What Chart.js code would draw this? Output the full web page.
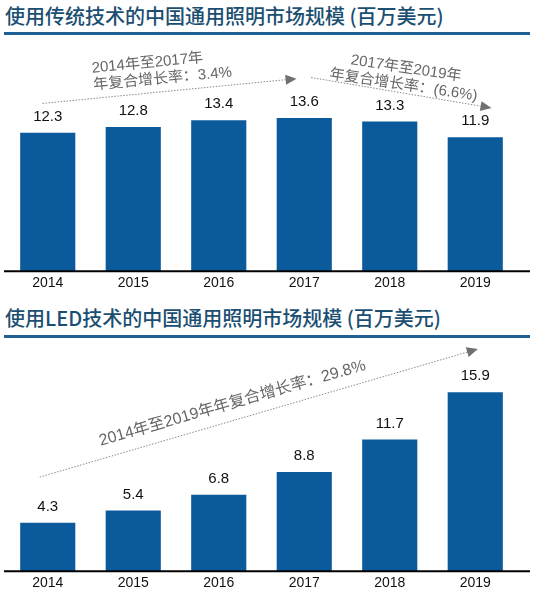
<!DOCTYPE html>
<html>
<head>
<meta charset="utf-8">
<script src="https://cdn.jsdelivr.net/npm/chart.js@4.4.1/dist/chart.umd.min.js"></script>
<style>
  body { margin: 0; background: #fff; width: 533px; height: 597px; position: relative; overflow: hidden; }
  .title { position: absolute; left: 5px; font: 500 20px 'Noto Sans CJK SC', sans-serif; line-height: 24px; color: #1b4f72; white-space: nowrap; }
  .rule { position: absolute; left: 4px; width: 526px; height: 3px; background: #1f5f94; }
  .box { position: absolute; left: 0; width: 533px; }
</style>
</head>
<body>
<div class="title" id="title1" style="top:4px"></div>
<div class="rule" style="top:32px"></div>
<div class="box" style="top:38px;height:258px"><canvas id="chart1"></canvas></div>
<div class="title" id="title2" style="top:306px"></div>
<div class="rule" style="top:335px"></div>
<div class="box" style="top:340px;height:256px"><canvas id="chart2"></canvas></div>
<script>
'use strict';
// data
let years = ['2014', '2015', '2016', '2017', '2018', '2019'];
let traditionalValues = [12.3, 12.8, 13.4, 13.6, 13.3, 11.9];
let ledValues = [4.3, 5.4, 6.8, 8.8, 11.7, 15.9];
let traditionalTitle = '使用传统技术的中国通用照明市场规模 (百万美元)';
let ledTitle = '使用LED技术的中国通用照明市场规模 (百万美元)';
let traditionalNotes = [['2014年至2017年', '年复合增长率：3.4%'], ['2017年至2019年', '年复合增长率：(6.6%)']];
let ledNotes = [['2014年至2019年年复合增长率：29.8%']];

document.getElementById('title1').textContent = traditionalTitle;
document.getElementById('title2').textContent = ledTitle;

let barColor = '#0b5a9b';
let noteColor = '#666666';
let numFont = "'Liberation Sans', 'Noto Sans CJK SC', sans-serif";

// arrows and rotated notes, placed in category index / value units
let traditionalArrows = [
  { from: [-0.06, 14.9], to: [2.91, 17.1] },
  { from: [3.08, 17.2], to: [5.19, 14.5] }
];
let traditionalText = [
  { at: [0.515, 18.0], angle: -5.4, align: 'left', lines: traditionalNotes[0] },
  { at: [4.19, 18.0], angle: 8.5, align: 'center', lines: traditionalNotes[1] }
];
let ledArrows = [
  { from: [-0.094, 8.36], to: [5.03, 19.73] }
];
let ledText = [
  { at: [2.16, 14.9], angle: -16, align: 'center', lines: ledNotes[0], size: 16 }
];

// value labels over bars, baseline and notes
let extras = {
  id: 'extras',
  afterDatasetsDraw(chart, args, opts) {
    let ctx = chart.ctx;
    let x = chart.scales.x;
    let y = chart.scales.y;
    let base = y.getPixelForValue(0);
    ctx.save();
    // baseline
    ctx.strokeStyle = '#000';
    ctx.lineWidth = 2;
    ctx.beginPath();
    ctx.moveTo(4, base);
    ctx.lineTo(530, base);
    ctx.stroke();
    // labels
    ctx.fillStyle = '#111';
    ctx.font = '15px ' + numFont;
    ctx.textAlign = 'center';
    ctx.textBaseline = 'middle';
    chart.getDatasetMeta(0).data.forEach((bar, i) => {
      ctx.fillText(chart.data.datasets[0].data[i].toFixed(1), bar.x, bar.y - 16);
    });
    // arrows
    opts.arrows.forEach(a => {
      let x1 = x.getPixelForValue(a.from[0]), y1 = y.getPixelForValue(a.from[1]);
      let x2 = x.getPixelForValue(a.to[0]), y2 = y.getPixelForValue(a.to[1]);
      let ang = Math.atan2(y2 - y1, x2 - x1);
      let headLen = 11;
      ctx.strokeStyle = '#8a8a8a';
      ctx.lineWidth = 1;
      ctx.setLineDash([1.5, 1.5]);
      ctx.beginPath();
      ctx.moveTo(x1, y1);
      ctx.lineTo(x2 - headLen * Math.cos(ang), y2 - headLen * Math.sin(ang));
      ctx.stroke();
      ctx.setLineDash([]);
      ctx.fillStyle = '#707070';
      ctx.beginPath();
      ctx.moveTo(x2, y2);
      ctx.lineTo(x2 - headLen * Math.cos(ang) + 5 * Math.sin(ang), y2 - headLen * Math.sin(ang) - 5 * Math.cos(ang));
      ctx.lineTo(x2 - headLen * Math.cos(ang) - 5 * Math.sin(ang), y2 - headLen * Math.sin(ang) + 5 * Math.cos(ang));
      ctx.closePath();
      ctx.fill();
    });
    // notes
    opts.texts.forEach(t => {
      ctx.save();
      ctx.translate(x.getPixelForValue(t.at[0]), y.getPixelForValue(t.at[1]));
      ctx.rotate(t.angle * Math.PI / 180);
      ctx.fillStyle = noteColor;
      ctx.font = (t.size || 15) + 'px ' + numFont;
      ctx.textAlign = t.align;
      ctx.textBaseline = 'middle';
      t.lines.forEach((line, i) => ctx.fillText(line, 0, i * 17));
      ctx.restore();
    });
    ctx.restore();
  }
};

function makeChart(id, values, arrows, texts, topPad) {
  let ctx = document.getElementById(id).getContext('2d');
  return new Chart(ctx, {
    type: 'bar',
    data: {
      labels: years,
      datasets: [{
        data: values,
        backgroundColor: barColor,
        borderWidth: 0,
        categoryPercentage: 1,
        barPercentage: 0.645
      }]
    },
    options: {
      responsive: true,
      maintainAspectRatio: false,
      animation: false,
      layout: { padding: { top: topPad, left: 5, right: 15, bottom: 0 } },
      plugins: {
        legend: { display: false },
        tooltip: { enabled: false },
        extras: { arrows: arrows, texts: texts }
      },
      scales: {
        x: {
          grid: { display: false, drawTicks: false },
          border: { display: false },
          ticks: { color: '#111', font: { family: numFont, size: 14 }, padding: 4 }
        },
        y: { display: false, min: 0, max: 20 }
      }
    },
    plugins: [extras]
  });
}

makeChart('chart1', traditionalValues, traditionalArrows, traditionalText, 8);
makeChart('chart2', ledValues, ledArrows, ledText, 6);
</script>
</body>
</html>
